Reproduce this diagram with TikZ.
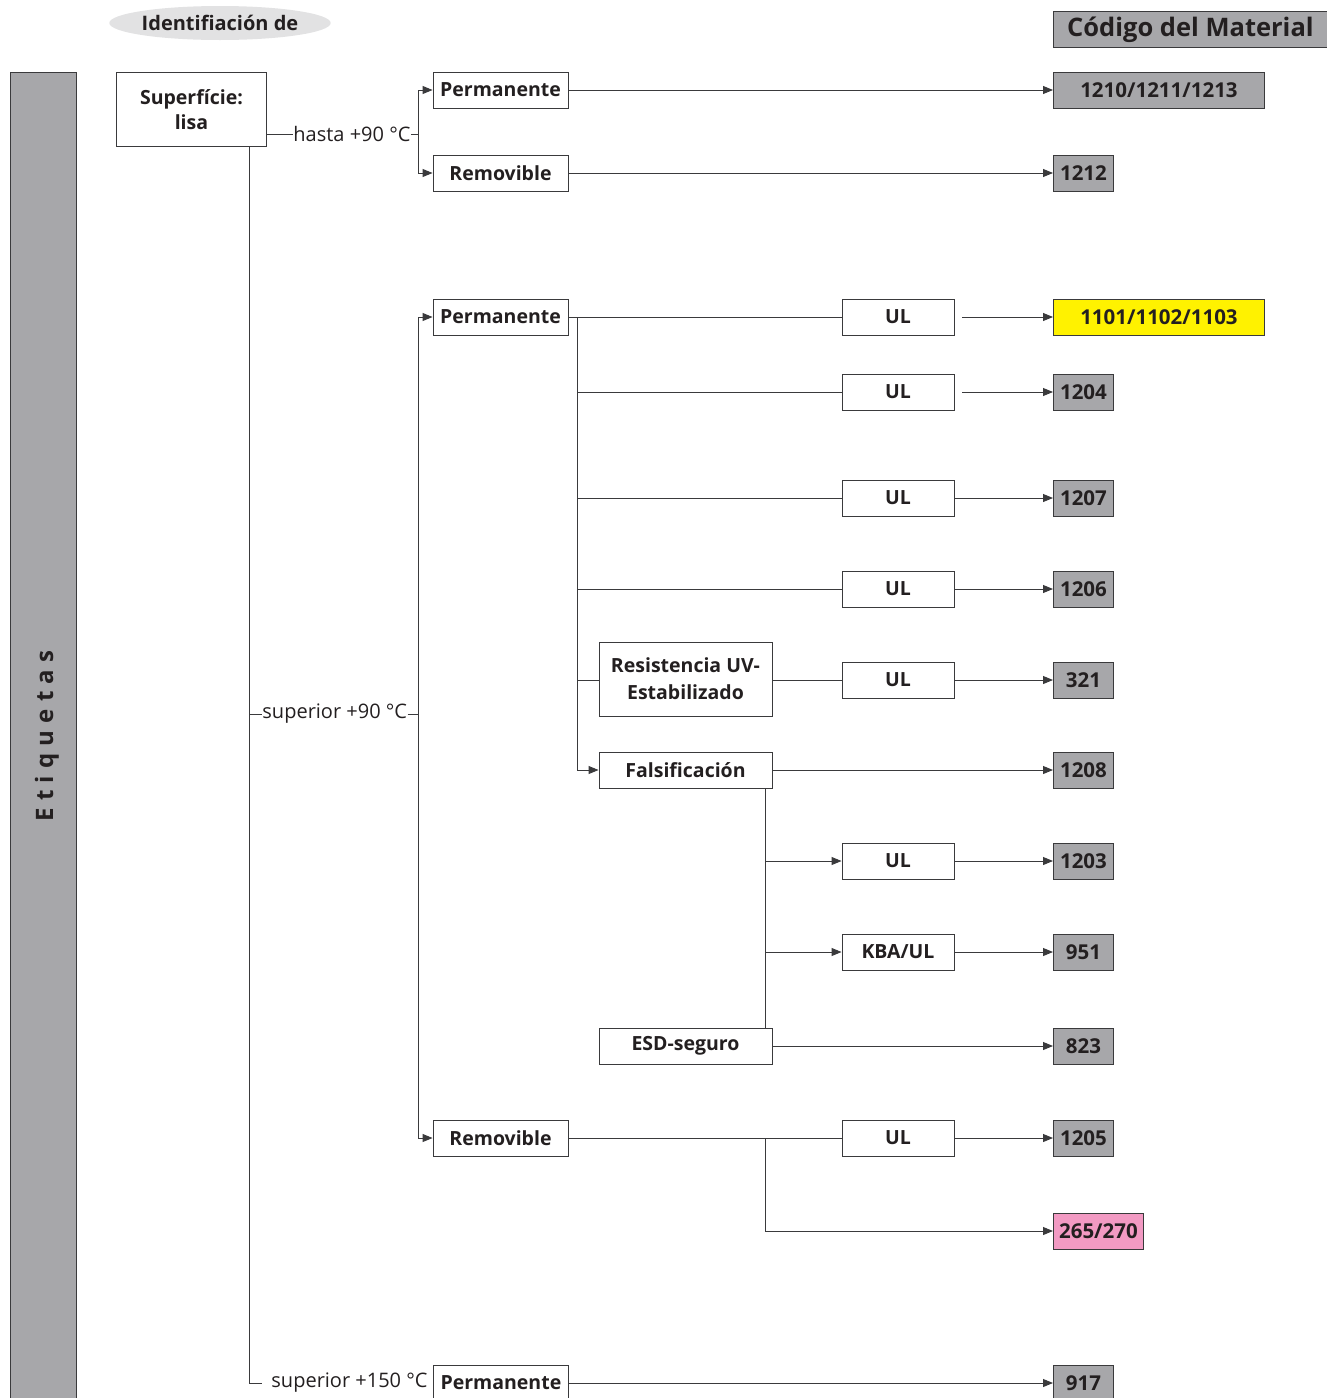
\documentclass[tikz,border=0pt]{standalone}
\usepackage{fontspec}
\setmainfont{Open Sans}
\usetikzlibrary{arrows.meta,shapes.geometric}
\definecolor{ink}{HTML}{231F20}
\definecolor{linec}{HTML}{3A3A3C}
\definecolor{codegray}{HTML}{A7A7AA}
\definecolor{codeyellow}{HTML}{FFF200}
\definecolor{codepink}{HTML}{F29AC3}
\definecolor{ovalgray}{HTML}{E2E2E3}
\begin{document}
\begin{tikzpicture}[x=1pt,y=-1pt,
  line width=0.9pt, draw=linec,
  box/.style={draw=linec, line width=0.9pt, fill=white, text=ink, inner sep=0pt,
    font=\fontsize{19.5}{23}\selectfont\bfseries, minimum height=36pt},
  wbox/.style={box, minimum width=135pt},
  ulbox/.style={box, minimum width=112pt},
  mbox/.style={box, minimum width=173pt},
  code/.style={box, fill=codegray, minimum width=60pt, font=\fontsize{20.5}{23}\selectfont\bfseries},
  lbl/.style={inner sep=0pt, text=ink, font=\fontsize{20}{24}\selectfont, anchor=west},
  arr/.style={-{Triangle[length=10pt,width=8pt]}},
  conn/.style={line width=0.9pt, draw=linec}
]
\useasboundingbox (0,0) rectangle (1327,1398);
\begin{scope}
\clip (0,0) rectangle (1327,1398);
% left bar
\node[draw=linec, line width=0.9pt, fill=codegray, minimum width=66pt, minimum height=1340pt, anchor=north west, inner sep=0pt] (bar) at (10,72) {};
\node[rotate=90, text=ink, font=\fontsize{24}{28}\selectfont\bfseries\addfontfeatures{LetterSpace=30}] (etq) at (47,736) {Etiquetas};
% header
\node[ellipse, fill=ovalgray, minimum width=212pt, minimum height=34pt, inner sep=0pt, text=ink, font=\fontsize{20}{24}\selectfont\bfseries] (ident) at (220,23) {Identifiación de};
\node[box, fill=codegray, minimum width=274pt, font=\fontsize{25.5}{30}\selectfont\bfseries, anchor=north west] (cdm) at (1053,11) {Código del Material};

% superficie
\node[box, minimum width=150pt, minimum height=74pt, anchor=north west, align=center, font=\fontsize{19.5}{25}\selectfont\bfseries] (sup) at (116,72) {Superfície:\\lisa};

% first group
\node[wbox] (p1) at (500.5,90) {Permanente};
\node[wbox] (r1) at (500.5,173) {Removible};
\node[code, minimum width=211pt, anchor=west] (c1) at (1053,90) {1210/1211/1213};
\node[code, anchor=west] (c2) at (1053,173) {1212};
\coordinate (h0) at (266,134);
\node[lbl] (lh) at (293,134) {hasta +90~°C};
\coordinate (h1) at (418,134);
\draw[conn] (h0) -- (lh.west);
\draw[conn] (lh.east) -- (h1);
\draw[conn,arr] (h1) |- (p1.west);
\draw[conn,arr] (h1) |- (r1.west);
\draw[conn,arr] (p1.east) -- (c1.west);
\draw[conn,arr] (r1.east) -- (c2.west);

% main trunk
\coordinate (s0) at (249,146);
\coordinate (s1) at (249,714);
\coordinate (s2) at (249,1383);
\node[lbl] (ls) at (262,714) {superior +90~°C};
\coordinate (v2) at (418,714);
\node[lbl] (ls2) at (271,1383) {superior +150~°C};
\coordinate (s3) at (262,1383);
\draw[conn] (s0) -- (s2) -- (s3);
\draw[conn] (s1) -- (ls.west);
\draw[conn] (ls.east) -- (v2);

% second group
\node[wbox] (p2) at (500.5,317) {Permanente};
\node[wbox] (r2) at (500.5,1138) {Removible};
\draw[conn,arr] (v2) |- (p2.west);
\draw[conn,arr] (v2) |- (r2.west);

\node[ulbox] (u1) at (898,317) {UL};
\node[ulbox] (u2) at (898,392) {UL};
\node[ulbox] (u3) at (898,498) {UL};
\node[ulbox] (u4) at (898,589) {UL};
\node[ulbox] (u5) at (898,680) {UL};
\node[ulbox] (u6) at (898,861) {UL};
\node[ulbox] (u7) at (898,952) {KBA/UL};
\node[ulbox] (u8) at (898,1138) {UL};

\node[code, minimum width=211pt, anchor=west, fill=codeyellow] (k1) at (1053,317) {1101/1102/1103};
\node[code, anchor=west] (k2) at (1053,392) {1204};
\node[code, anchor=west] (k3) at (1053,498) {1207};
\node[code, anchor=west] (k4) at (1053,589) {1206};
\node[code, anchor=west] (k5) at (1053,680) {321};
\node[code, anchor=west] (k6) at (1053,770) {1208};
\node[code, anchor=west] (k7) at (1053,861) {1203};
\node[code, anchor=west] (k8) at (1053,952) {951};
\node[code, anchor=west] (k9) at (1053,1046) {823};
\node[code, anchor=west] (k10) at (1053,1138) {1205};
\node[code, minimum width=90pt, anchor=west, fill=codepink] (k11) at (1053,1231) {265/270};
\node[code, anchor=west] (k12) at (1053,1383) {917};

\node[mbox, minimum height=74pt, align=center, font=\fontsize{19.5}{27}\selectfont\bfseries] (res) at (685.5,679) {Resistencia UV-\\Estabilizado};
\node[mbox] (fal) at (685.5,770) {Falsificación};
\node[mbox] (esd) at (685.5,1046) {ESD-seguro};

% permanente2 fan
\coordinate (b0) at (577,317);
\coordinate (b1) at (577,392);
\coordinate (b2) at (577,498);
\coordinate (b3) at (577,589);
\coordinate (b4) at (577,680);
\coordinate (b5) at (577,770);
\draw[conn] (p2.east) -- (u1.west);
\draw[conn] (b0) -- (b5);
\draw[conn,arr] (b5) -- (fal.west);
\draw[conn] (b1) -- (u2.west);
\draw[conn] (b2) -- (u3.west);
\draw[conn] (b3) -- (u4.west);
\draw[conn] (b4) -- (b4 -| res.west);
\draw[conn] (res.east |- u5) -- (u5.west);
\draw[conn,arr,shorten <=8pt] (u1.east) -- (k1.west);
\draw[conn,arr,shorten <=8pt] (u2.east) -- (k2.west);
\draw[conn,arr] (u3.east) -- (k3.west);
\draw[conn,arr] (u4.east) -- (k4.west);
\draw[conn,arr] (u5.east) -- (k5.west);
\draw[conn,arr] (fal.east) -- (k6.west);

% falsificacion fan
\coordinate (f0) at (765,788);
\coordinate (f1) at (765,861);
\coordinate (f2) at (765,952);
\coordinate (f3) at (765,1028);
\draw[conn] (f0) -- (f3);
\draw[conn,arr] (f1) -- (u6.west);
\draw[conn,arr] (f2) -- (u7.west);
\draw[conn,arr] (u6.east) -- (k7.west);
\draw[conn,arr] (u7.east) -- (k8.west);
\draw[conn,arr] (esd.east) -- (k9.west);

% removible2
\coordinate (g0) at (765,1138);
\coordinate (g1) at (765,1231);
\draw[conn] (r2.east) -- (u8.west);
\draw[conn,arr] (u8.east) -- (k10.west);
\draw[conn] (g0) -- (g1);
\draw[conn,arr] (g1) -- (k11.west);

% bottom
\node[wbox, anchor=west] (p3) at (433,1383) {Permanente};
\draw[conn,arr] (p3.east) -- (k12.west);
\end{scope}
\end{tikzpicture}
\end{document}
